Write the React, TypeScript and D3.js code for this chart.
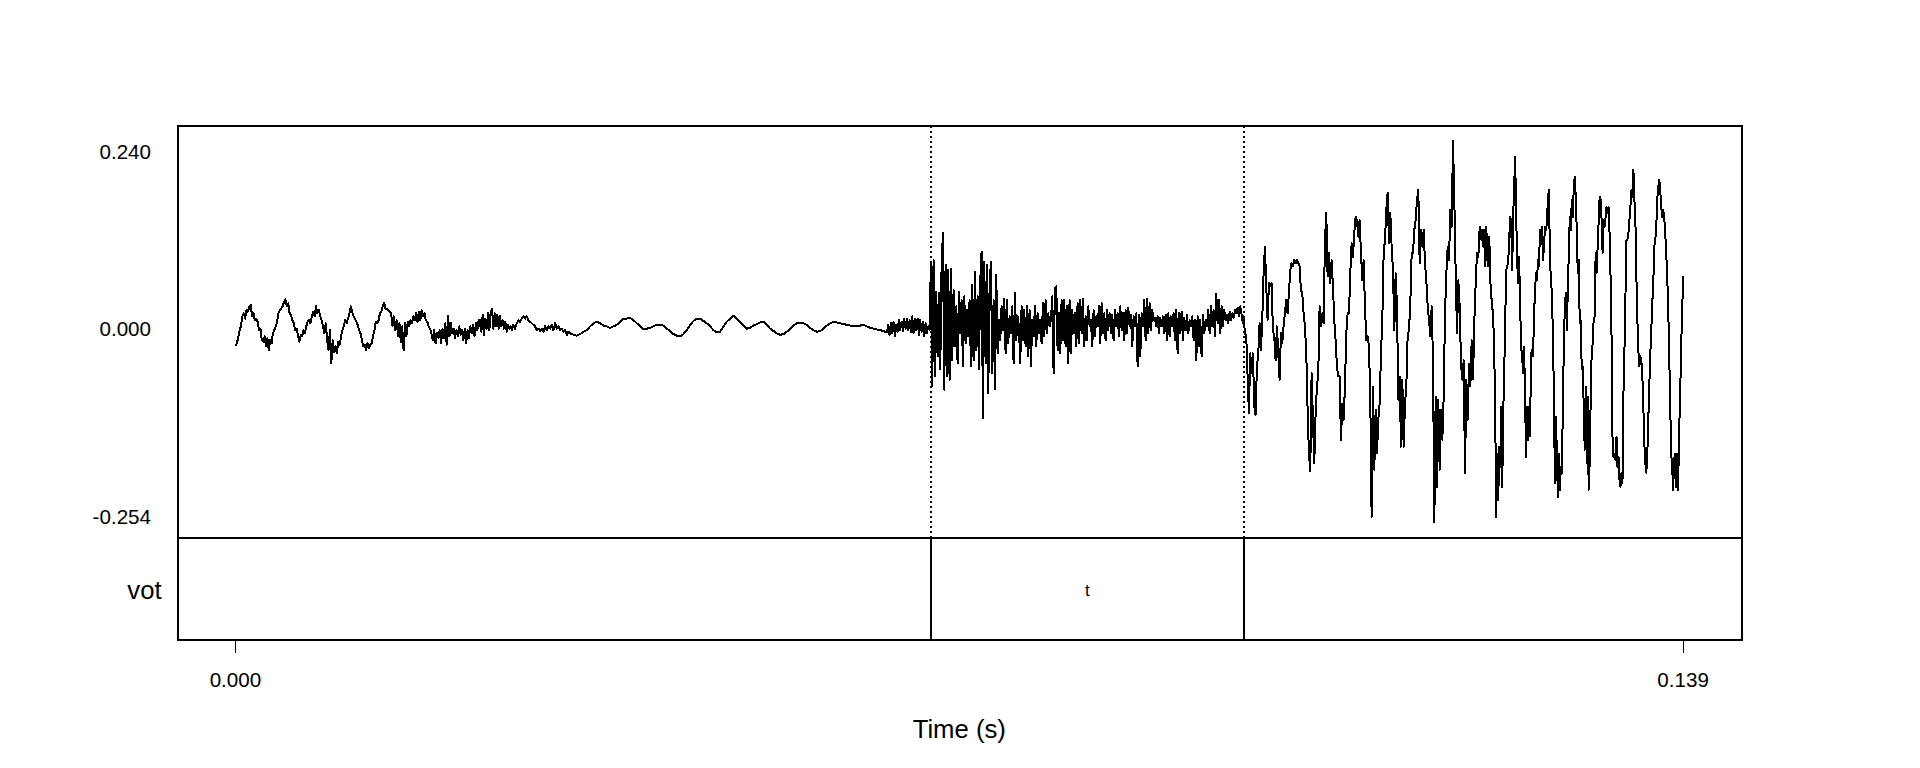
import React from "react";
import * as d3 from "d3";

// ---------------- data ----------------
const timeRangeSec = [0, 0.139];
const amplitudeRange = [-0.254, 0.24];
const xTickValues = [0, 0.139];
const xTickLabels = ["0.000", "0.139"];
const yTickValues = [0.24, 0, -0.254];
const yTickLabels = ["0.240", "0.000", "-0.254"];
const tierName = "vot";
const tierBoundariesSec = [0.0668, 0.0968];
const tierIntervalLabels = ["", "t", ""];
const xAxisTitle = "Time (s)";

// waveform pieces: time span in ms, amplitudes in thousandths
const prevoicingASpanMs = [0, 23.49];
const prevoicingA = [-26,-22,-15,-5,0,13,17,10,21,19,26,28,13,17,8,10,6,-5,-3,-18,-20,-13,-26,-15,-31,-18,-22,-9,-5,0,6,17,21,23,26,32,35,26,30,17,15,8,4,-5,-3,-11,-20,-11,-13,-5,-9,0,6,8,4,13,19,13,26,17,21,13,8,0,-9,4,-18,-31,-5,-48,-18,-33,-26,-35,-20,-24,-13,-5,0,8,4,10,17,26,19,13,10,6,2,-5,-9,-18,-26,-24,-31,-22,-28,-24,-22,-13,-5,6,4,8,17,19,26,31,23,23,21,19,17,0,13,-5,8,-13,4,-20,0,-31,4,-13,6,0,8,4,13,8,17,6,19,8,21,13,17,8,6,0,-3,-9,-18,-5,-22,-9,-15,-5,-22,-3,-15,4,-24,13,-13,4,-9,-3,-15,-5,-13,0,-11,-5,-18,-3,-22,-5,-15,0,-9,2,-13,4,-5,8,0];

const prevoicingB1SpanMs = [23.49, 26.56];
const prevoicingB1 = [8,-7,15,-11,10,-3,17,-5,19,23,-3,17,0,15,-3,13,0,8,-3,6,-7,2,-3,0,-5];

const prevoicingB2SpanMs = [26.69, 32.14];
const prevoicingB2 = [2,-3,4,8,6,10,13,10,13,8,6,4,2,0,-5,-3,-6,-3,-7,0,-5,0,-3,2,-5,4,-3,0,-5,-3,-7,-5,-11,-7,-9];

const prevoicingB3SpanMs = [32.46, 47.5];
const prevoicingB3 = [-11,-12,-10,-7,-5,0,4,6,4,1,0,-2,0,2,6,10,10,11,8,4,0,-4,-3,-2,0,2,2,1,-3,-6,-10,-12,-13,-10,-5,2,7,10,10,7,4,0,-5,-8,-7,0,6,10];

const closureC1SpanMs = [47.5, 62.55];
const closureC1 = [10,14,10,5,1,-3,-2,1,3,5,6,2,-3,-6,-9,-11,-10,-7,-3,1,4,5,4,2,-2,-5,-7,-6,-3,1,4,6,5,4,3,2,1,0,1,1,2,0,-2,-3,-4,-5,-6,-8];

const closureC2SpanMs = [62.68, 66.65];
const closureC2 = [2,-11,4,-9,6,-13,2,-7,8,-5,6,-6,10,-3,10,-5,8,-7,13,-9,10,-5,10,-11,8,-7,6,-13,4,-9,0,-5];

const burstSpanMs = [66.78, 96.74];
const burst = [84,-78,86,-65,45,-39,43,-56,77,121,-82,80,-65,73,-69,75,-44,47,-26,26,-48,45,-9,34,-52,39,-22,21,-13,34,-52,54,-44,71,-31,39,-56,60,97,-119,84,-48,80,-87,52,84,-61,34,-82,67,-35,8,-18,26,-5,36,-35,34,-22,13,-9,26,-48,43,-18,13,0,-48,26,-18,21,-26,26,-39,21,-52,8,-13,26,-26,17,-9,8,-22,30,-13,34,-9,17,0,8,39,-61,49,52,-31,17,-35,34,-18,34,-26,26,-48,34,-35,21,-9,17,-26,30,-22,34,-9,36,-26,13,-18,26,0,8,-26,21,-13,13,0,26,-22,30,-9,17,-18,21,-5,17,-9,15,-18,21,0,17,-13,26,-5,17,-18,21,-9,24,0,15,-26,13,0,17,-52,15,-39,17,0,34,-18,36,-9,30,-5,21,8,11,0,13,-9,11,0,13,-9,15,-18,17,-13,13,0,17,-18,21,-35,17,-9,19,-18,11,-5,15,-9,8,0,13,-18,8,-44,13,-26,8,-39,15,-9,8,0,21,-9,26,0,21,-13,42,4,34,-9,26,0,21,8,15,4,19,8,17,11,21,17,24,13,26,15,4];

const vowelASpanMs = [96.8, 119.47];
const vowelA = [13,-9,-13,-65,-113,-35,-61,-35,-104,-115,-52,-35,4,-31,8,69,103,52,8,56,52,56,-5,-13,-44,0,-35,-69,-9,-22,0,17,34,17,43,73,82,78,86,82,86,82,78,47,43,17,0,-35,-108,-165,-188,-61,-121,-177,-113,-78,-61,26,0,17,4,112,147,65,95,56,86,52,8,-18,-52,-65,-65,-147,-100,-121,-78,-9,17,17,69,108,90,121,142,138,116,138,95,60,86,26,-18,-13,-26,-95,-247,-78,-186,-108,-165,-121,-100,-35,8,95,112,151,173,108,147,103,73,-5,69,26,-95,-65,-156,-69,-156,-100,-78,-13,-5,30,95,95,125,138,164,177,82,125,103,125,82,60,26,8,-13,26,-44,-254,-91,-208,-95,-186,-108,-147,-91,17,69,103,86,151,129,240,164,69,-9,60,26,-48,-69,-44,-190,-69,-121,-48,-78,-18,-69,8,56,95,90,129];

const vowelBSpanMs = [119.63, 139.0];
const vowelB = [112,125,103,125,78,129,86,78,116,60,39,26,8,-35,-121,-247,-165,-225,-156,-182,-104,-208,-113,-61,8,73,78,82,112,142,138,73,142,181,220,147,86,56,90,30,-26,-39,-61,-26,-91,-169,-104,-147,-104,-143,-35,-31,-39,13,47,69,60,86,78,125,108,129,86,103,129,125,134,168,177,90,60,43,-13,-87,-203,-117,-165,-221,-165,-212,-182,-190,-104,-26,26,43,-5,47,95,142,125,164,142,181,194,168,125,69,86,4,8,-56,-52,-104,-160,-78,-177,-91,-212,-177,-95,-35,-22,8,13,95,69,103,134,168,164,138,95,138,129,142,155,147,155,121,65,-13,-147,-169,-165,-173,-143,-182,-169,-199,-208,-190,-203,-87,-31,39,112,112,121,138,155,177,168,203,164,138,65,8,-31,-52,-39,-44,-65,-104,-152,-177,-190,-165,-121,-78,-35,-5,30,56,103,112,129,164,181,190,177,155,142,151,142,121,95,65,26,-35,-100,-165,-182,-212,-173,-165,-208,-165,-212,-134,-95,-26,13,65];

const waveformPieces: [number[], number[]][] = [
  [prevoicingASpanMs, prevoicingA],
  [prevoicingB1SpanMs, prevoicingB1],
  [prevoicingB2SpanMs, prevoicingB2],
  [prevoicingB3SpanMs, prevoicingB3],
  [closureC1SpanMs, closureC1],
  [closureC2SpanMs, closureC2],
  [burstSpanMs, burst],
  [vowelASpanMs, vowelA],
  [vowelBSpanMs, vowelB],
];

// ---------------- layout ----------------
const W = 1920;
const H = 768;
const LEFT = 177.5;
const RIGHT = 1741;
const WAVE_TOP = 126;
const WAVE_BOTTOM = 537.5;
const TIER_BOTTOM = 640;
const FONT = "'Liberation Sans', Arial, Helvetica, sans-serif";
const TICK_FS = 20.6;
const LABEL_FS = 25.7;

export default function App() {
  const [t0, t1] = timeRangeSec;
  const xPad = (t1 - t0) * 0.04;
  const x = d3.scaleLinear().domain([t0 - xPad, t1 + xPad]).range([LEFT, RIGHT]);
  const [a0, a1] = amplitudeRange;
  const yPad = (a1 - a0) * 0.04;
  const y = d3.scaleLinear().domain([a0 - yPad, a1 + yPad]).range([WAVE_BOTTOM, WAVE_TOP]);

  const points: [number, number][] = waveformPieces.flatMap(([span, vals]) =>
    vals.map((v, i) => [
      (span[0] + ((span[1] - span[0]) * i) / (vals.length - 1)) / 1000,
      v / 1000,
    ] as [number, number])
  );
  const wavePath = d3
    .line<[number, number]>()
    .x((d) => x(d[0]))
    .y((d) => y(d[1]))(points) || "";

  const yLabelShift = [10.5, 2.6, -5.6];
  const tierEdges = [t0, ...tierBoundariesSec, t1];
  const tierMid = (WAVE_BOTTOM + TIER_BOTTOM) / 2;

  return (
    <div style={{ position: "absolute", left: 0, top: 0, width: W, height: H, background: "#fff" }}>
      <svg width={W} height={H} viewBox={`0 0 ${W} ${H}`} style={{ display: "block" }}>
        <rect x={0} y={0} width={W} height={H} fill="#fff" />
        {/* waveform */}
        <path d={wavePath} fill="none" stroke="#000" strokeWidth={2} strokeLinejoin="round"
          shapeRendering="crispEdges" />
        {/* boundary dotted lines in waveform panel */}
        {tierBoundariesSec.map((b, i) => (
          <line key={"dot" + i} x1={Math.round(x(b))} x2={Math.round(x(b))} y1={WAVE_TOP} y2={WAVE_BOTTOM}
            stroke="#000" strokeWidth={2} strokeDasharray="2 3" shapeRendering="crispEdges" />
        ))}
        {/* tier boundaries */}
        {tierBoundariesSec.map((b, i) => (
          <line key={"tb" + i} x1={Math.round(x(b))} x2={Math.round(x(b))} y1={WAVE_BOTTOM} y2={TIER_BOTTOM}
            stroke="#000" strokeWidth={2} shapeRendering="crispEdges" />
        ))}
        {/* boxes */}
        <rect x={Math.round(LEFT)} y={WAVE_TOP} width={Math.round(RIGHT - LEFT)} height={TIER_BOTTOM - WAVE_TOP}
          fill="none" stroke="#000" strokeWidth={2} shapeRendering="crispEdges" />
        <line x1={LEFT} x2={RIGHT} y1={Math.round(WAVE_BOTTOM)} y2={Math.round(WAVE_BOTTOM)} stroke="#000" strokeWidth={2}
          shapeRendering="crispEdges" />
        {/* y labels */}
        {yTickValues.map((v, i) => (
          <text key={"yl" + i} x={151} y={y(v) + yLabelShift[i] + 0.358 * TICK_FS}
            textAnchor="end" fontFamily={FONT} fontSize={TICK_FS} fill="#000">
            {yTickLabels[i]}
          </text>
        ))}
        {/* x ticks */}
        {xTickValues.map((v, i) => (
          <g key={"xt" + i}>
            <line x1={Math.round(x(v))} x2={Math.round(x(v))} y1={TIER_BOTTOM} y2={TIER_BOTTOM + 13} stroke="#000" strokeWidth={1}
              shapeRendering="crispEdges" />
            <text x={x(v)} y={680 + 0.358 * TICK_FS} textAnchor="middle" fontFamily={FONT}
              fontSize={TICK_FS} fill="#000">
              {xTickLabels[i]}
            </text>
          </g>
        ))}
        {/* tier name and labels */}
        <text x={161.6} y={tierMid + 2.5 + 0.3 * LABEL_FS} textAnchor="end" fontFamily={FONT}
          fontSize={LABEL_FS} fill="#000">
          {tierName}
        </text>
        {tierIntervalLabels.map((lab, i) =>
          lab ? (
            <text key={"il" + i} x={(x(tierEdges[i]) + x(tierEdges[i + 1])) / 2} y={tierMid + 1.5 + 0.36 * 17}
              textAnchor="middle" fontFamily={FONT} fontSize={17} fill="#000">
              {lab}
            </text>
          ) : null
        )}
        {/* x axis title */}
        <text x={(LEFT + RIGHT) / 2} y={737.5} textAnchor="middle" fontFamily={FONT}
          fontSize={LABEL_FS} fill="#000">
          {xAxisTitle}
        </text>
      </svg>
    </div>
  );
}
